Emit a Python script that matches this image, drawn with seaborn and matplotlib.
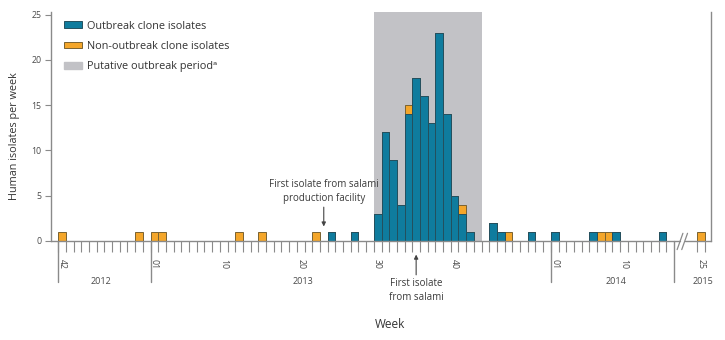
import matplotlib
matplotlib.use("Agg")  # headless
import matplotlib.pyplot as plt
import matplotlib.transforms as mtransforms
from matplotlib.patches import Patch
import pandas as pd
import seaborn as sns

sns.set_theme(style="white")
plt.rcParams["font.family"] = ["Open Sans", "DejaVu Sans"]

# weeks with isolates, as (year, week)
outbreak_weeks = [(2013, 24), (2013, 27), (2013, 30), (2013, 31), (2013, 32), (2013, 33),
                  (2013, 34), (2013, 35), (2013, 36), (2013, 37), (2013, 38), (2013, 39),
                  (2013, 40), (2013, 41), (2013, 42), (2013, 45), (2013, 46), (2013, 50),
                  (2014, 1), (2014, 6), (2014, 9), (2014, 15)]
outbreak_counts = [1, 1, 3, 12, 9, 4, 14, 18, 16, 13, 23, 14, 5, 3, 1, 2, 1, 1, 1, 1, 1, 1]

non_outbreak_weeks = [(2012, 42), (2012, 52), (2013, 1), (2013, 2), (2013, 12), (2013, 15),
                      (2013, 22), (2013, 34), (2013, 41), (2013, 47), (2014, 7), (2014, 8),
                      (2015, 25)]
non_outbreak_counts = [1, 1, 1, 1, 1, 1, 1, 1, 1, 1, 1, 1, 1]

outbreak_period = [(2013, 30), (2013, 43)]

week_ticks = [(2012, 42), (2013, 1), (2013, 10), (2013, 20), (2013, 30), (2013, 40),
              (2014, 1), (2014, 10), (2015, 25)]
year_labels = ["2012", "2013", "2014", "2015"]

annotations = [("First isolate from salami\nproduction facility", (2013, 23)),
               ("First isolate\nfrom salami", (2013, 35))]

# slot of week 01 minus one, per year on the broken week axis
YEAR_OFFSET = {2012: -42, 2013: 11, 2014: 63, 2015: 58}

TEAL = "#0f7c9e"
ORANGE = "#f4a62a"
GREY_BAND = "#c2c2c6"
LINE = "#8a8a8a"
TEXT = "#4a4a4a"


def pos(yw):
    return YEAR_OFFSET[yw[0]] + yw[1]


def build_frame():
    rows = {}
    for yw, n in zip(outbreak_weeks, outbreak_counts):
        rows.setdefault(pos(yw), [0, 0])[0] += n
    for yw, n in zip(non_outbreak_weeks, non_outbreak_counts):
        rows.setdefault(pos(yw), [0, 0])[1] += n
    df = pd.DataFrame([(p, a, b) for p, (a, b) in sorted(rows.items())],
                      columns=["pos", "outbreak", "non_outbreak"])
    df["total"] = df["outbreak"] + df["non_outbreak"]
    return df


df = build_frame()

fig = plt.figure(figsize=(7.25, 3.4), dpi=100)
ax = fig.add_axes([51 / 725, 1 - 241 / 340, 660 / 725, 229 / 340])

ax.axvspan(pos(outbreak_period[0]) - 0.5, pos(outbreak_period[1]) + 0.5,
           color=GREY_BAND, lw=0, zorder=0)

sns.barplot(data=df, x="pos", y="total", native_scale=True, width=1, color=ORANGE,
            saturation=1, edgecolor="#7a6230", linewidth=0.7, errorbar=None, ax=ax, zorder=2)
sns.barplot(data=df[df["outbreak"] > 0], x="pos", y="outbreak", native_scale=True, width=1,
            color=TEAL, saturation=1, edgecolor="#24505e", linewidth=0.7, errorbar=None,
            ax=ax, zorder=3)

ax.set_xlim(-1.43, 84.3)
ax.set_ylim(0, 25.3)
ax.set_xlabel("")
ax.set_ylabel("")

# spines
for side in ["top", "bottom"]:
    ax.spines[side].set_visible(False)
for side in ["left", "right"]:
    ax.spines[side].set_color(LINE)
    ax.spines[side].set_linewidth(1.0)

ax.set_yticks([0, 5, 10, 15, 20, 25])
ax.tick_params(axis="y", left=True, length=4, width=0.8, color=LINE, labelsize=6.3,
               labelcolor=TEXT, pad=3)

# week axis: boundary ticks + rotated labels
bounds = [b - 0.5 for b in range(0, 80)] + [82.5, 83.5]
ax.set_xticks(bounds, minor=True)
ax.set_xticks([pos(w) for w in week_ticks], [f"{w[1]:02d}" for w in week_ticks], rotation=-90)
ax.tick_params(axis="x", which="minor", bottom=True, length=8, width=0.8, color=LINE)
ax.tick_params(axis="x", which="major", bottom=True, length=0, pad=13, labelsize=6.3,
               labelcolor=TEXT)

# baseline with axis break
ax.plot([-1.43, 80.3], [0, 0], color=LINE, lw=1.0, clip_on=False, zorder=4)
ax.plot([80.9, 84.3], [0, 0], color=LINE, lw=1.0, clip_on=False, zorder=4)
for x0 in [79.9, 80.5]:
    ax.plot([x0, x0 + 0.75], [-0.95, 0.85], color=LINE, lw=0.9, clip_on=False, zorder=4)

# year separators and labels
trans = mtransforms.blended_transform_factory(ax.transData, ax.transAxes)
for x in [-0.5, 11.5, 63.5, 79.5]:
    ax.plot([x, x], [0, -0.18], color=LINE, lw=1.0, transform=trans, clip_on=False)
for label, x in zip(year_labels, [5.0, 31.3, 72.0, 83.2]):
    ax.text(x, -0.175, label, transform=trans, ha="center", va="center", fontsize=6.5,
            color=TEXT)

# annotations
arrow = dict(arrowstyle="-|>", lw=0.8, color="#444444", shrinkA=0, shrinkB=0,
             mutation_scale=6)
ax.annotate(annotations[0][0], xy=(pos(annotations[0][1]), 1.6),
            xytext=(pos(annotations[0][1]), 4.1), ha="center", va="bottom",
            fontsize=7, color="#3a3a3a", linespacing=1.3, arrowprops=arrow)
ax.annotate(annotations[1][0], xy=(pos(annotations[1][1]), -1.5),
            xytext=(pos(annotations[1][1]), -4.1), ha="center", va="top",
            fontsize=7, color="#3a3a3a", linespacing=1.3, arrowprops=arrow,
            annotation_clip=False)

handles = [Patch(facecolor=TEAL, edgecolor="#24505e", lw=0.7),
           Patch(facecolor=ORANGE, edgecolor="#7a6230", lw=0.7),
           Patch(facecolor=GREY_BAND, edgecolor=GREY_BAND)]
ax.legend(handles, ["Outbreak clone isolates", "Non-outbreak clone isolates",
                    "Putative outbreak period\u1d43"],
          loc="upper left", bbox_to_anchor=(0.005, 1.005), frameon=False, fontsize=7.8,
          handlelength=1.7, handleheight=0.6, handletextpad=0.4, labelspacing=0.85,
          labelcolor="#333333")

fig.text(390 / 725, 1 - 325 / 340, "Week", ha="center", va="center", fontsize=8.5,
         color="#333333")
fig.text(15 / 725, 1 - 136 / 340, "Human isolates per week", ha="center", va="center",
         rotation=90, fontsize=7.8, color="#333333")

fig.savefig("out.png", dpi=100)
